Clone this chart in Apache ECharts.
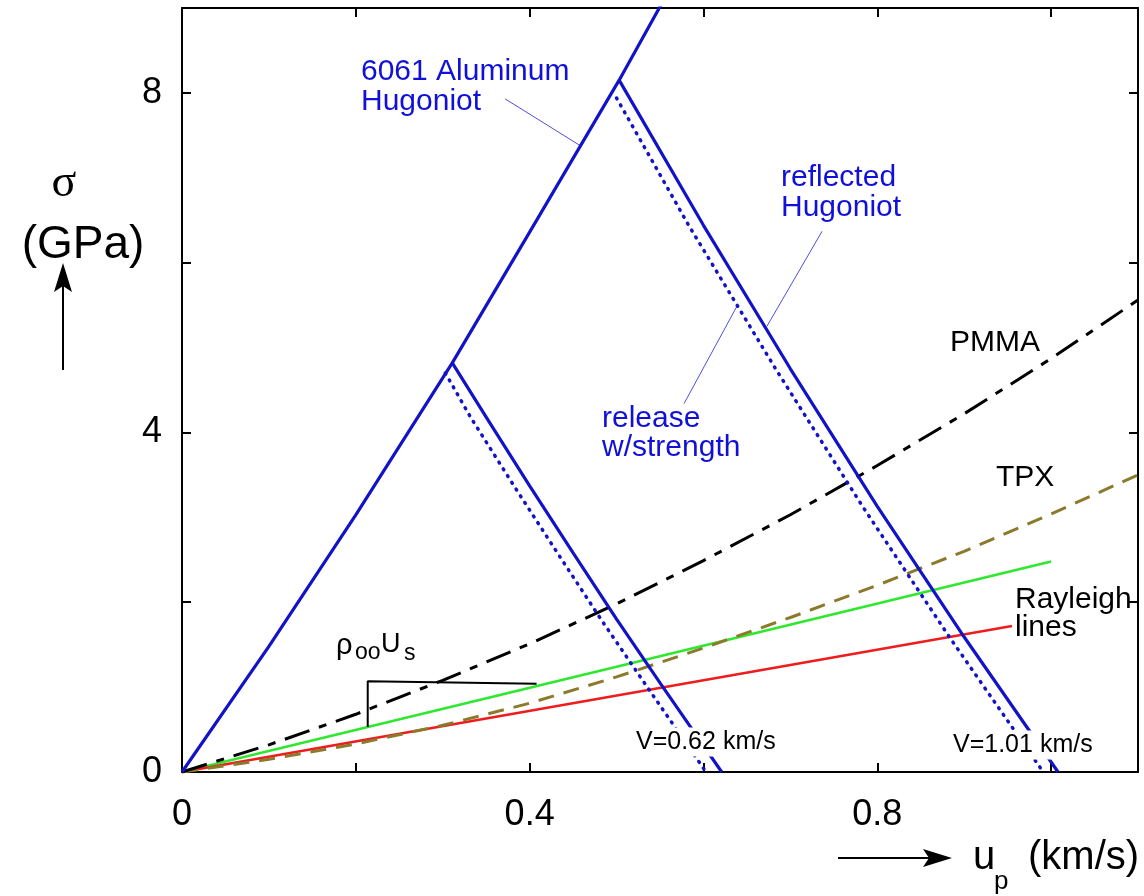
<!DOCTYPE html>
<html>
<head>
<meta charset="utf-8">
<script src="https://cdn.jsdelivr.net/npm/echarts@6/dist/echarts.min.js"></script>
<style>
  html, body { margin: 0; padding: 0; background: #ffffff; }
  #chart { width: 1144px; height: 896px; }
</style>
</head>
<body>
<div id="chart"></div>
<script>
// Particle velocity u_p (km/s) and stress sigma (GPa) along each curve.

// 6061 aluminum principal Hugoniot
const alU = [0, 0.1, 0.2, 0.311, 0.4, 0.503, 0.56];
const alS = [0, 1.48, 3.03, 4.82, 6.36, 8.15, 9.2];

// Reflected Hugoniot and release (with strength), impact V = 0.62 km/s
const refl62U = [0.311, 0.35, 0.4, 0.45, 0.5, 0.55, 0.6, 0.621];
const refl62S = [4.82, 4.18, 3.37, 2.58, 1.80, 1.05, 0.31, 0];
const rel62U = [0.303, 0.332, 0.382, 0.432, 0.482, 0.532, 0.582, 0.603];
const rel62S = [4.70, 4.18, 3.37, 2.58, 1.80, 1.05, 0.31, 0];

// Reflected Hugoniot and release (with strength), impact V = 1.01 km/s
const refl101U = [0.503, 0.6, 0.7, 0.8, 0.9, 1.008];
const refl101S = [8.15, 6.44, 4.75, 3.13, 1.59, 0];
const rel101U = [0.5, 0.583, 0.683, 0.783, 0.883, 0.991];
const rel101S = [7.94, 6.44, 4.75, 3.13, 1.59, 0];

// Window material Hugoniots
const windowU = [0, 0.1, 0.2, 0.3, 0.4, 0.5, 0.6, 0.7, 0.8, 0.9, 1.0, 1.1];
const pmmaS = [0, 0.32, 0.68, 1.08, 1.51, 1.98, 2.49, 3.03, 3.61, 4.22, 4.87, 5.56];
const tpxS = [0, 0.15, 0.33, 0.55, 0.81, 1.12, 1.46, 1.82, 2.20, 2.60, 3.04, 3.50];

// Rayleigh lines
const rayGreenU = [0, 1.0];
const rayGreenS = [0, 2.48];
const rayRedU = [0, 0.955];
const rayRedS = [0, 1.72];

// Slope marker for rho_oo * U_s
const slopeU = [0.2137, 0.2137, 0.408];
const slopeS = [0.53, 1.07, 1.04];

// Axis ticks and labels
const xTicks = [0, 0.2, 0.4, 0.6, 0.8, 1.0];
const xLabels = [0, 0.4, 0.8];
const yTicks = [0, 2, 4, 6, 8];
const yLabels = [0, 4, 8];

const pairs = (us, ss) => us.map((u, i) => [u, ss[i]]);

const BLUE = '#1212c6';
const TEXT_BLUE = '#1010d8';
const SANS = '"Liberation Sans", Arial, Helvetica, sans-serif';

// Leader lines joining the annotations to their curves (data coordinates)
const leaderAl = [[0.3717, 7.93], [0.458, 7.38]];
const leaderRefl = [[0.7365, 6.37], [0.673, 5.25]];
const leaderRel = [[0.5777, 4.34], [0.6387, 5.49]];

function lineSeries(name, data, color, width, type, z, cap) {
  return {
    name, type: 'line', data,
    showSymbol: false, symbol: 'none', animation: false,
    lineStyle: { color, width, type: type || 'solid', cap: cap || 'butt' },
    z: z || 2, silent: true, clip: true
  };
}

const axisCommon = {
  type: 'value',
  axisLine: { show: true, onZero: false, lineStyle: { color: '#000', width: 2 } },
  axisTick: { show: true, inside: true, length: 9, lineStyle: { color: '#000', width: 2 } },
  splitLine: { show: false }
};

const option = {
  backgroundColor: '#ffffff',
  animation: false,
  grid: { left: 182, top: 8, width: 956, height: 764, containLabel: false },
  xAxis: [
    Object.assign({}, axisCommon, {
      min: 0, max: 1.1, interval: 0.2, position: 'bottom',
      axisTick: Object.assign({}, axisCommon.axisTick, { customValues: xTicks }),
      axisLabel: {
        customValues: xLabels, margin: 25, color: '#000',
        fontFamily: SANS, fontSize: 36,
        formatter: v => String(+(+v).toFixed(1))
      }
    }),
    Object.assign({}, axisCommon, {
      min: 0, max: 1.1, interval: 0.2, position: 'top',
      axisTick: Object.assign({}, axisCommon.axisTick, { customValues: xTicks }),
      axisLabel: { show: false }
    })
  ],
  yAxis: [
    Object.assign({}, axisCommon, {
      min: 0, max: 9, interval: 1, position: 'left',
      axisTick: Object.assign({}, axisCommon.axisTick, { customValues: yTicks }),
      axisLabel: {
        customValues: yLabels, margin: 20, color: '#000',
        fontFamily: SANS, fontSize: 36,
        formatter: v => String(v)
      }
    }),
    Object.assign({}, axisCommon, {
      min: 0, max: 9, interval: 1, position: 'right',
      axisTick: Object.assign({}, axisCommon.axisTick, { customValues: yTicks }),
      axisLabel: { show: false }
    })
  ],
  series: [
    lineSeries('Rayleigh (green)', pairs(rayGreenU, rayGreenS), '#2ee82e', 2.5, 'solid', 2),
    lineSeries('Rayleigh (red)', pairs(rayRedU, rayRedS), '#ee1c1c', 2.5, 'solid', 2),
    lineSeries('TPX', pairs(windowU, tpxS), '#8c7a2c', 3, [16, 10], 3),
    lineSeries('PMMA', pairs(windowU, pmmaS), '#000000', 3, [26, 10, 8, 10], 3),
    lineSeries('6061 Al Hugoniot', pairs(alU, alS), BLUE, 3.2, 'solid', 4),
    lineSeries('Reflected 0.62', pairs(refl62U, refl62S), BLUE, 3.2, 'solid', 4),
    lineSeries('Release 0.62', pairs(rel62U, rel62S), BLUE, 3.5, [1, 7], 4, 'round'),
    lineSeries('Reflected 1.01', pairs(refl101U, refl101S), BLUE, 3.2, 'solid', 4),
    lineSeries('Release 1.01', pairs(rel101U, rel101S), BLUE, 3.5, [1, 7], 4, 'round'),
    lineSeries('slope', pairs(slopeU, slopeS), '#000000', 2, 'solid', 3),
    lineSeries('leader Al', leaderAl, '#5050d8', 1, 'solid', 3),
    lineSeries('leader reflected', leaderRefl, '#5050d8', 1, 'solid', 3),
    lineSeries('leader release', leaderRel, '#5050d8', 1, 'solid', 3)
  ],
  graphic: [
    // annotation text
    { type: 'text', x: 361, y: 72, z: 100, style: { text: '6061 Aluminum', fill: TEXT_BLUE, font: '30px ' + SANS, verticalAlign: 'middle' } },
    { type: 'text', x: 361, y: 102, z: 100, style: { text: 'Hugoniot', fill: TEXT_BLUE, font: '30px ' + SANS, verticalAlign: 'middle' } },
    { type: 'text', x: 781, y: 178, z: 100, style: { text: 'reflected', fill: TEXT_BLUE, font: '30px ' + SANS, verticalAlign: 'middle' } },
    { type: 'text', x: 781, y: 208, z: 100, style: { text: 'Hugoniot', fill: TEXT_BLUE, font: '30px ' + SANS, verticalAlign: 'middle' } },
    { type: 'text', x: 602, y: 419, z: 100, style: { text: 'release', fill: TEXT_BLUE, font: '30px ' + SANS, verticalAlign: 'middle' } },
    { type: 'text', x: 602, y: 448, z: 100, style: { text: 'w/strength', fill: TEXT_BLUE, font: '30px ' + SANS, verticalAlign: 'middle' } },
    { type: 'text', x: 950, y: 343, z: 100, style: { text: 'PMMA', fill: '#000', font: '30px ' + SANS, verticalAlign: 'middle' } },
    { type: 'text', x: 996, y: 478, z: 100, style: { text: 'TPX', fill: '#000', font: '30px ' + SANS, verticalAlign: 'middle' } },
    { type: 'text', x: 1015, y: 600, z: 100, style: { text: 'Rayleigh', fill: '#000', font: '30px ' + SANS, verticalAlign: 'middle' } },
    { type: 'text', x: 1015, y: 628, z: 100, style: { text: 'lines', fill: '#000', font: '30px ' + SANS, verticalAlign: 'middle' } },
    { type: 'text', x: 634, y: 742, z: 100, style: { text: 'V=0.62 km/s', fill: '#000', font: '25px ' + SANS, verticalAlign: 'middle', backgroundColor: '#fff', padding: [2, 2, 2, 2] } },
    { type: 'text', x: 951, y: 745, z: 100, style: { text: 'V=1.01 km/s', fill: '#000', font: '25px ' + SANS, verticalAlign: 'middle', backgroundColor: '#fff', padding: [2, 2, 2, 2] } },
    // rho_oo U_s
    { type: 'text', x: 336, y: 646, z: 100, style: { text: 'ρ', fill: '#000', font: '29px ' + SANS, verticalAlign: 'middle' } },
    { type: 'text', x: 355, y: 653, z: 100, style: { text: 'oo', fill: '#000', font: '23px ' + SANS, verticalAlign: 'middle' } },
    { type: 'text', x: 381, y: 645, z: 100, style: { text: 'U', fill: '#000', font: '27px ' + SANS, verticalAlign: 'middle' } },
    { type: 'text', x: 404, y: 654, z: 100, style: { text: 's', fill: '#000', font: '23px ' + SANS, verticalAlign: 'middle' } },
    // y-axis title with arrow
    { type: 'text', x: 64, y: 184, z: 100, style: { text: 'σ', fill: '#000', font: '46px "Liberation Serif", "DejaVu Serif", serif', align: 'center', verticalAlign: 'middle' } },
    { type: 'text', x: 83, y: 245, z: 100, style: { text: '(GPa)', fill: '#000', font: '46px ' + SANS, align: 'center', verticalAlign: 'middle' } },
    { type: 'line', z: 100, shape: { x1: 63, y1: 370, x2: 63, y2: 282 }, style: { stroke: '#000', lineWidth: 2 } },
    { type: 'polygon', z: 100, shape: { points: [[63, 263], [72, 292], [63, 286], [54, 292]] }, style: { fill: '#000' } },
    // x-axis title with arrow
    { type: 'line', z: 100, shape: { x1: 838, y1: 858, x2: 935, y2: 858 }, style: { stroke: '#000', lineWidth: 2 } },
    { type: 'polygon', z: 100, shape: { points: [[952, 858], [923, 849], [929, 858], [923, 867]] }, style: { fill: '#000' } },
    { type: 'text', x: 973, y: 858, z: 100, style: { text: 'u', fill: '#000', font: '40px ' + SANS, verticalAlign: 'middle' } },
    { type: 'text', x: 994, y: 882, z: 100, style: { text: 'p', fill: '#000', font: '26px ' + SANS, verticalAlign: 'middle' } },
    { type: 'text', x: 1028, y: 858, z: 100, style: { text: '(km/s)', fill: '#000', font: '40px ' + SANS, verticalAlign: 'middle' } }
  ]
};

const chart = echarts.init(document.getElementById('chart'), null, { renderer: 'canvas' });
chart.setOption(option);
</script>
</body>
</html>
